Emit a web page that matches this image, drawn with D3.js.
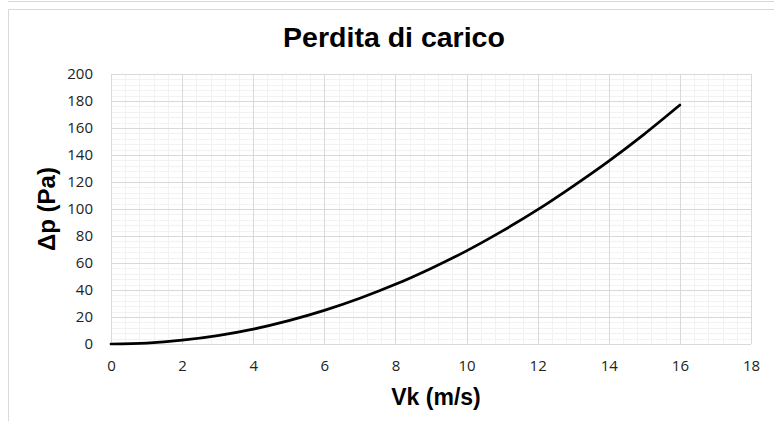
<!DOCTYPE html>
<html>
<head>
<meta charset="utf-8">
<script src="https://cdn.jsdelivr.net/npm/d3@7.9.0/dist/d3.min.js"></script>
<style>
  body { margin: 0; background: #fff; }
  svg { display: block; }
</style>
</head>
<body>
<svg id="chart" width="774" height="421"></svg>
<script>
// values
const speed = [0, 1, 2, 3, 4, 5, 6, 7, 8, 9, 10, 11, 12, 13, 14, 15, 16];
const pressureDrop = [0, 0.7, 2.8, 6.2, 11, 17.3, 24.9, 33.9, 44.2, 56, 69, 83.6, 99.5, 117, 135.5, 155.5, 177];
const xTicks = [0, 2, 4, 6, 8, 10, 12, 14, 16, 18];
const yTicks = [0, 20, 40, 60, 80, 100, 120, 140, 160, 180, 200];

const svg = d3.select("#chart"),
      margin = { top: 74, right: 23, bottom: 77, left: 111 },
      width = +svg.attr("width"),
      height = +svg.attr("height"),
      innerWidth = width - margin.left - margin.right,
      innerHeight = height - margin.top - margin.bottom;

// chart frames (Excel-like)
svg.append("line").attr("x1", 8).attr("x2", width).attr("y1", 1.5).attr("y2", 1.5)
  .attr("stroke", "#d9d9d9").attr("stroke-width", 1);
svg.append("path").attr("d", `M${width},9.5 H8.5 V${height}`)
  .attr("fill", "none").attr("stroke", "#d9d9d9").attr("stroke-width", 1);

const chart = svg.append("g")
    .attr("transform", `translate(${margin.left},${margin.top})`);

const xScale = d3.scaleLinear().domain([0, 18]).range([0, innerWidth]);
const yScale = d3.scaleLinear().domain([0, 200]).range([innerHeight, 0]);

// minor grid
const xMinor = d3.range(0, 18.001, 0.4).map(d => +d.toFixed(1));
const yMinor = d3.range(0, 200.001, 4);
chart.append("g").selectAll("line").data(xMinor).join("line")
  .attr("x1", d => Math.round(xScale(d)) + 0.5).attr("x2", d => Math.round(xScale(d)) + 0.5)
  .attr("y1", 0).attr("y2", innerHeight)
  .attr("stroke", "#f2f2f2");
chart.append("g").selectAll("line").data(yMinor).join("line")
  .attr("y1", d => Math.round(yScale(d)) + 0.5).attr("y2", d => Math.round(yScale(d)) + 0.5)
  .attr("x1", 0).attr("x2", innerWidth)
  .attr("stroke", "#f2f2f2");

// major grid
chart.append("g").selectAll("line").data(xTicks).join("line")
  .attr("x1", d => Math.round(xScale(d)) + 0.5).attr("x2", d => Math.round(xScale(d)) + 0.5)
  .attr("y1", 0).attr("y2", innerHeight)
  .attr("stroke", "#d9d9d9");
chart.append("g").selectAll("line").data(yTicks).join("line")
  .attr("y1", d => Math.round(yScale(d)) + 0.5).attr("y2", d => Math.round(yScale(d)) + 0.5)
  .attr("x1", 0).attr("x2", innerWidth)
  .attr("stroke", "#d9d9d9");

// axes (labels only)
const xAxis = chart.append("g")
    .attr("transform", `translate(0,${innerHeight})`)
    .call(d3.axisBottom(xScale).tickValues(xTicks).tickSize(0).tickPadding(16).tickFormat(d3.format("d")));
const yAxis = chart.append("g")
    .call(d3.axisLeft(yScale).tickValues(yTicks).tickSize(0).tickPadding(18).tickFormat(d3.format("d")));
[xAxis, yAxis].forEach(a => {
  a.select(".domain").remove();
  a.selectAll("text")
    .attr("font-family", "'Open Sans', sans-serif")
    .attr("font-size", 15)
    .attr("fill", "#222");
});

// curve
const line = d3.line()
    .x((d, i) => xScale(speed[i]))
    .y(d => yScale(d))
    .curve(d3.curveMonotoneX);

chart.append("path")
  .datum(pressureDrop)
  .attr("fill", "none")
  .attr("stroke", "#000")
  .attr("stroke-width", 2.75)
  .attr("stroke-linecap", "round")
  .attr("d", line);

// titles
svg.append("text")
  .attr("x", 394).attr("y", 47)
  .attr("text-anchor", "middle")
  .attr("font-family", "'Liberation Sans', Arial, sans-serif")
  .attr("font-weight", "bold")
  .attr("font-size", 28.5)
  .text("Perdita di carico");

svg.append("text")
  .attr("x", margin.left + innerWidth / 2 + 5).attr("y", 405)
  .attr("text-anchor", "middle")
  .attr("font-family", "'Liberation Sans', Arial, sans-serif")
  .attr("font-weight", "bold")
  .attr("font-size", 23)
  .text("Vk (m/s)");

svg.append("text")
  .attr("transform", `translate(55,${margin.top + innerHeight / 2}) rotate(-90)`)
  .attr("text-anchor", "middle")
  .attr("font-family", "'Liberation Sans', Arial, sans-serif")
  .attr("font-weight", "bold")
  .attr("font-size", 24)
  .text("Δp (Pa)");
</script>
</body>
</html>
